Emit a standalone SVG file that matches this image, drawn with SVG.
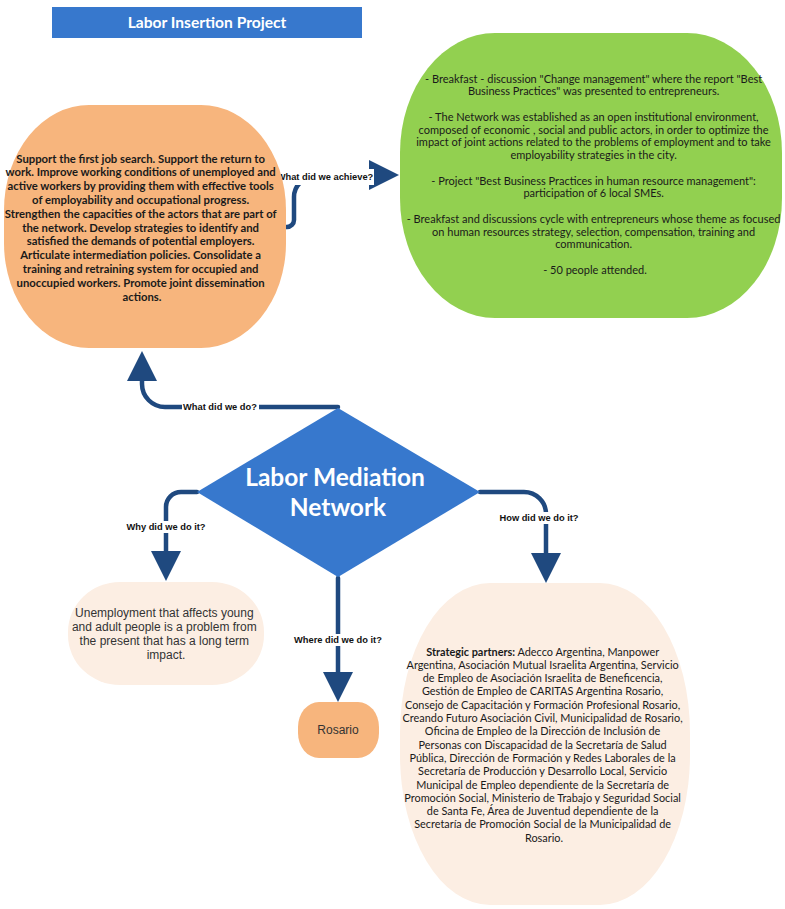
<svg xmlns="http://www.w3.org/2000/svg" width="785" height="909" viewBox="0 0 785 909">
<defs>
<style>
.blue{fill:#3778CD}
.conn{fill:none;stroke:#1F497F;stroke-width:4.5;stroke-linecap:round;stroke-linejoin:round}
.lbl{font-family:"Liberation Sans",Arial,sans-serif;font-weight:bold;font-size:9.3px;fill:#111;text-anchor:middle}
.lblbg{fill:#fff}
.cal{font-family:Lato,"Open Sans",sans-serif;fill:#1a1a1a;text-anchor:middle}
.ar{font-family:"Liberation Sans",Arial,sans-serif;font-size:12px;fill:#333;text-anchor:middle}
</style>
<marker id="arr" viewBox="0 0 30 30" refX="0" refY="15" markerWidth="30" markerHeight="30" markerUnits="userSpaceOnUse" orient="auto">
<path d="M0,0 L30,15 L0,30 Z" fill="#1F497F"/>
</marker>
</defs>
<rect width="785" height="909" fill="#fff"/>

<g id="title">
<rect x="52" y="7" width="310" height="31" class="blue"/>
<text x="207" y="28" font-family="Lato,'Open Sans',sans-serif" font-weight="bold" font-size="15.6" fill="#fff" text-anchor="middle">Labor Insertion Project</text>
</g>

<g id="connectors">
<path class="conn" d="M338 407 L165 407 A23 23 0 0 1 142 384 L142 381" marker-end="url(#arr)"/>
<path class="conn" d="M279 227 L287 227 A7 7 0 0 0 294 220 L294 197 A20 20 0 0 1 314 177 L350 177 L355 175 L369 175" marker-end="url(#arr)"/>
<path class="conn" d="M197 492 L181 492 A15 15 0 0 0 166 507 L166 551" marker-end="url(#arr)"/>
<path class="conn" d="M480 492 L524 492 A22 22 0 0 1 546 514 L546 553" marker-end="url(#arr)"/>
<path class="conn" d="M338 578 L338 672" marker-end="url(#arr)"/>
<rect class="lblbg" x="182" y="401" width="77" height="12"/>
<text class="lbl" x="220" y="410.3">What did we do?</text>
<rect class="lblbg" x="276" y="169" width="98" height="16"/>
<text class="lbl" x="325" y="180.3">What did we achieve?</text>
<rect class="lblbg" x="126" y="521" width="80" height="12"/>
<text class="lbl" x="166" y="530.3">Why did we do it?</text>
<rect class="lblbg" x="499" y="512" width="80" height="12"/>
<text class="lbl" x="539" y="521.3">How did we do it?</text>
<rect class="lblbg" x="294" y="634" width="89" height="12"/>
<text class="lbl" x="338" y="643.3">Where did we do it?</text>
</g>

<g id="goals">
<rect x="4" y="105" width="282" height="243" rx="85" ry="105" fill="#F7B57D"/>
<text class="cal" font-weight="bold" font-size="11.3">
<tspan x="142" y="162.5">Support the first job search. Support the return to</tspan>
<tspan x="142" y="176.3">work. Improve working conditions of unemployed and</tspan>
<tspan x="142" y="190.1">active workers by providing them with effective tools</tspan>
<tspan x="142" y="203.9">of employability and occupational progress.</tspan>
<tspan x="142" y="217.7">Strengthen the capacities of the actors that are part of</tspan>
<tspan x="142" y="231.5">the network. Develop strategies to identify and</tspan>
<tspan x="142" y="245.3">satisfied the demands of potential employers.</tspan>
<tspan x="142" y="259.1">Articulate intermediation policies. Consolidate a</tspan>
<tspan x="142" y="272.9">training and retraining system for occupied and</tspan>
<tspan x="142" y="286.7">unoccupied workers. Promote joint dissemination</tspan>
<tspan x="142" y="300.5">actions.</tspan>
</text>
</g>

<g id="achievements">
<rect x="400" y="33" width="382" height="285" rx="95" ry="120" fill="#92D050"/>
<text class="cal" font-size="11">
<tspan x="595" y="82.5">- Breakfast - discussion "Change management" where the report "Best</tspan>
<tspan x="595" y="95.3">Business Practices" was presented to entrepreneurs.</tspan>
<tspan x="595" y="120.8">- The Network was established as an open institutional environment,</tspan>
<tspan x="595" y="133.5">composed of economic , social and public actors, in order to optimize the</tspan>
<tspan x="595" y="146.3">impact of joint actions related to the problems of employment and to take</tspan>
<tspan x="595" y="159">employability strategies in the city.</tspan>
<tspan x="595" y="184.5">- Project "Best Business Practices in human resource management":</tspan>
<tspan x="595" y="197.3">participation of 6 local SMEs.</tspan>
<tspan x="595" y="222.8">- Breakfast and discussions cycle with entrepreneurs whose theme as focused</tspan>
<tspan x="595" y="235.5">on human resources strategy, selection, compensation, training and</tspan>
<tspan x="595" y="248.3">communication.</tspan>
<tspan x="595" y="273.8">- 50 people attended.</tspan>
</text>
</g>

<g id="network">
<path d="M338 408 L480 492 L338 577 L197 492 Z" class="blue"/>
<text font-family="Lato,'Open Sans',sans-serif" font-weight="bold" font-size="24.5" fill="#fff" text-anchor="middle">
<tspan x="338" y="486">Labor Mediation</tspan>
<tspan x="338" y="516">Network</tspan>
</text>
</g>

<g id="why">
<rect x="68" y="582" width="196" height="103" rx="52" ry="50" fill="#FCEEE3"/>
<text class="ar">
<tspan x="166" y="616.5">Unemployment that affects young</tspan>
<tspan x="166" y="630.5">and adult people is a problem from</tspan>
<tspan x="166" y="644.5">the present that has a long term</tspan>
<tspan x="166" y="658.5">impact.</tspan>
</text>
</g>

<g id="where">
<rect x="298" y="702" width="81" height="56" rx="21" ry="25" fill="#F7B57D"/>
<text class="ar" x="338" y="734" fill="#222">Rosario</text>
</g>

<g id="how">
<rect x="400" y="583" width="290" height="322" rx="90" ry="150" fill="#FCEEE3"/>
<text class="cal" font-size="10.9">
<tspan x="544" y="655.5"><tspan font-weight="bold">Strategic partners:</tspan> Adecco Argentina, Manpower</tspan>
<tspan x="544" y="668.8">Argentina, Asociación Mutual Israelita Argentina, Servicio</tspan>
<tspan x="544" y="682.1">de Empleo de Asociación Israelita de Beneficencia,</tspan>
<tspan x="544" y="695.4">Gestión de Empleo de CARITAS Argentina Rosario,</tspan>
<tspan x="544" y="708.7">Consejo de Capacitación y Formación Profesional Rosario,</tspan>
<tspan x="544" y="722">Creando Futuro Asociación Civil, Municipalidad de Rosario,</tspan>
<tspan x="544" y="735.3">Oficina de Empleo de la Dirección de Inclusión de</tspan>
<tspan x="544" y="748.6">Personas con Discapacidad de la Secretaría de Salud</tspan>
<tspan x="544" y="761.9">Pública, Dirección de Formación y Redes Laborales de la</tspan>
<tspan x="544" y="775.2">Secretaría de Producción y Desarrollo Local, Servicio</tspan>
<tspan x="544" y="788.5">Municipal de Empleo dependiente de la Secretaría de</tspan>
<tspan x="544" y="801.8">Promoción Social, Ministerio de Trabajo y Seguridad Social</tspan>
<tspan x="544" y="815.1">de Santa Fe, Área de Juventud dependiente de la</tspan>
<tspan x="544" y="828.4">Secretaría de Promoción Social de la Municipalidad de</tspan>
<tspan x="544" y="841.7">Rosario.</tspan>
</text>
</g>
</svg>
